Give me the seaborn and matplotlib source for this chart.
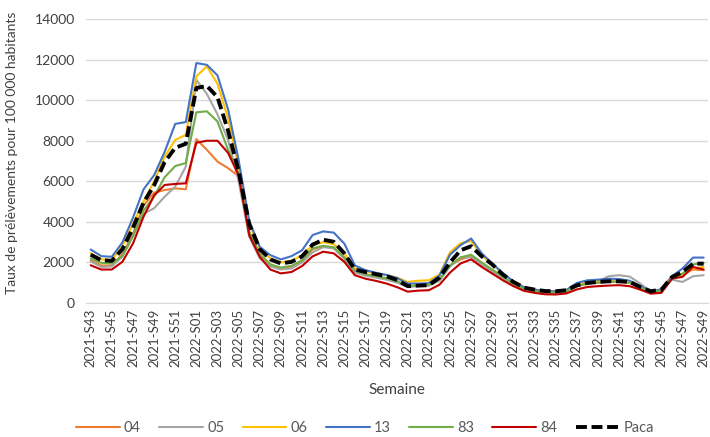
import numpy as np
import pandas as pd
import matplotlib
matplotlib.use('Agg')
import matplotlib.pyplot as plt
import seaborn as sns

# Semaines : 2021-S43 -> 2021-S52 puis 2022-S01 -> 2022-S49
semaines = [f'2021-S{w:02d}' for w in range(43, 53)] + [f'2022-S{w:02d}' for w in range(1, 50)]

dep_04 = [2100, 1850, 1850, 2400, 3400, 4800, 5440, 5570, 5650, 5610,
          8080, 7550, 6970, 6650, 6250, 3500, 2400, 1900, 1700, 1800,
          2100, 2650, 2800, 2700, 2200, 1550, 1400, 1300, 1200, 1050,
          820, 850, 870, 1150, 1850, 2150, 2300, 1950, 1600, 1250,
          930, 680, 580, 520, 510, 570, 830, 950, 1000, 1050,
          1050, 1000, 750, 520, 580, 1200, 1400, 1650, 1620]
dep_05 = [2050, 1780, 1800, 2300, 3300, 4400, 4670, 5240, 5740, 6720,
          11000, 10300, 9300, 8040, 6000, 3270, 2200, 1800, 1650, 1700,
          2000, 2500, 2750, 2700, 2200, 1500, 1350, 1250, 1150, 1000,
          800, 830, 850, 1100, 1800, 2250, 2250, 1900, 1550, 1200,
          900, 680, 580, 520, 510, 560, 820, 1000, 1050, 1320,
          1370, 1300, 960, 560, 600, 1150, 1040, 1320, 1370]
dep_06 = [2450, 2150, 2120, 2800, 3900, 5000, 6000, 7220, 8040, 8290,
          11170, 11670, 10800, 9100, 6730, 3950, 2650, 2200, 2000, 2080,
          2350, 2850, 3000, 2900, 2450, 1700, 1560, 1470, 1380, 1250,
          1040, 1100, 1120, 1400, 2500, 2950, 3050, 2350, 1900, 1450,
          1040, 760, 640, 570, 560, 620, 880, 1010, 1060, 1100,
          1100, 1030, 800, 560, 640, 1200, 1400, 1700, 1780]
dep_13 = [2640, 2310, 2280, 2980, 4200, 5600, 6300, 7450, 8830, 8920,
          11830, 11740, 11220, 9550, 7050, 4050, 2770, 2360, 2150, 2310,
          2600, 3350, 3530, 3470, 2930, 1850, 1620, 1490, 1380, 1230,
          960, 960, 980, 1350, 2380, 2850, 3180, 2450, 1950, 1480,
          1060, 780, 660, 590, 580, 640, 990, 1120, 1150, 1200,
          1180, 1100, 830, 570, 680, 1320, 1700, 2240, 2240]
dep_83 = [2190, 1980, 1950, 2300, 3300, 4550, 5250, 6200, 6750, 6900,
          9400, 9450, 8950, 7550, 6400, 3500, 2400, 1900, 1750, 1830,
          2100, 2700, 2820, 2750, 2250, 1600, 1420, 1320, 1220, 1080,
          850, 870, 900, 1150, 1850, 2250, 2380, 2000, 1650, 1300,
          950, 700, 600, 540, 530, 590, 840, 960, 1010, 1050,
          1060, 1010, 760, 540, 620, 1230, 1450, 1900, 1980]
dep_84 = [1860, 1650, 1650, 2030, 2930, 4250, 5300, 5820, 5870, 5900,
          7900, 8000, 8000, 7400, 6300, 3350, 2280, 1650, 1460, 1530,
          1820, 2300, 2530, 2450, 2030, 1370, 1200, 1090, 960, 780,
          560, 610, 630, 900, 1500, 1950, 2150, 1780, 1450, 1120,
          830, 600, 500, 430, 420, 470, 670, 790, 830, 860,
          880, 830, 660, 460, 500, 1200, 1290, 1780, 1650]
paca = [2380, 2110, 2080, 2650, 3700, 4950, 5800, 6950, 7650, 7850,
        10600, 10700, 10150, 8500, 6500, 3900, 2650, 2150, 1950, 2030,
        2300, 2880, 3120, 3020, 2450, 1650, 1530, 1420, 1320, 1130,
        830, 860, 880, 1250, 2000, 2600, 2800, 2300, 1900, 1400,
        1040, 760, 660, 590, 580, 630, 870, 990, 1040, 1070,
        1070, 1040, 790, 580, 660, 1280, 1530, 1940, 1940]

series = {'04': dep_04, '05': dep_05, '06': dep_06, '13': dep_13,
          '83': dep_83, '84': dep_84, 'Paca': paca}
couleurs = {'04': '#ED7D31', '05': '#A5A5A5', '06': '#FFC000', '13': '#4472C4',
            '83': '#70AD47', '84': '#C00000', 'Paca': '#000000'}

sns.set_style('white')
plt.rcParams['font.family'] = ['Lato', 'DejaVu Sans']

fig = plt.figure(figsize=(7.10, 4.37), dpi=100)
ax = fig.add_axes([0.121, 0.3066, 0.876, 0.6499])

x = np.arange(len(semaines))
for nom, vals in series.items():
    if nom == 'Paca':
        sns.lineplot(x=x, y=vals, ax=ax, color=couleurs[nom], lw=2.8,
                     label=nom, dashes=False)
        ax.lines[-1].set_dashes((2.8, 1.2))
        ax.lines[-1].set_dash_capstyle('butt')
    else:
        sns.lineplot(x=x, y=vals, ax=ax, color=couleurs[nom], lw=1.5, label=nom)

ax.set_ylim(0, 14000)
ax.set_xlim(-0.45, 58.4)
ax.set_yticks(np.arange(0, 14001, 2000))
ax.set_xticks(x[::2])
ax.set_xticklabels(semaines[::2], rotation=90, fontsize=9.5, color='#404040')
ax.tick_params(axis='y', labelsize=10, colors='#404040', length=0, pad=8)
ax.tick_params(axis='x', length=0, pad=4)
ax.grid(axis='y', color='#D9D9D9', lw=1)
ax.grid(axis='x', visible=False)
for s in ['top', 'right', 'left']:
    ax.spines[s].set_visible(False)
ax.spines['bottom'].set_color('#D9D9D9')

ax.set_ylabel('Taux de prélèvements pour 100 000 habitants', fontsize=10, color='#404040')
ax.yaxis.set_label_coords(-0.109, 0.53)
ax.set_xlabel('Semaine', fontsize=11, color='#404040')
ax.xaxis.set_label_coords(0.5, -0.28)
ax.xaxis.label.set_va('top')

handles, labels = ax.get_legend_handles_labels()
ax.get_legend().remove()
fig.legend(handles, labels, loc='lower center', bbox_to_anchor=(0.514, -0.026), ncol=7,
           frameon=False, fontsize=10.5, handlelength=3.0, handletextpad=0.27,
           columnspacing=1.27, labelcolor='#595959')

fig.savefig('out.png', dpi=100)
